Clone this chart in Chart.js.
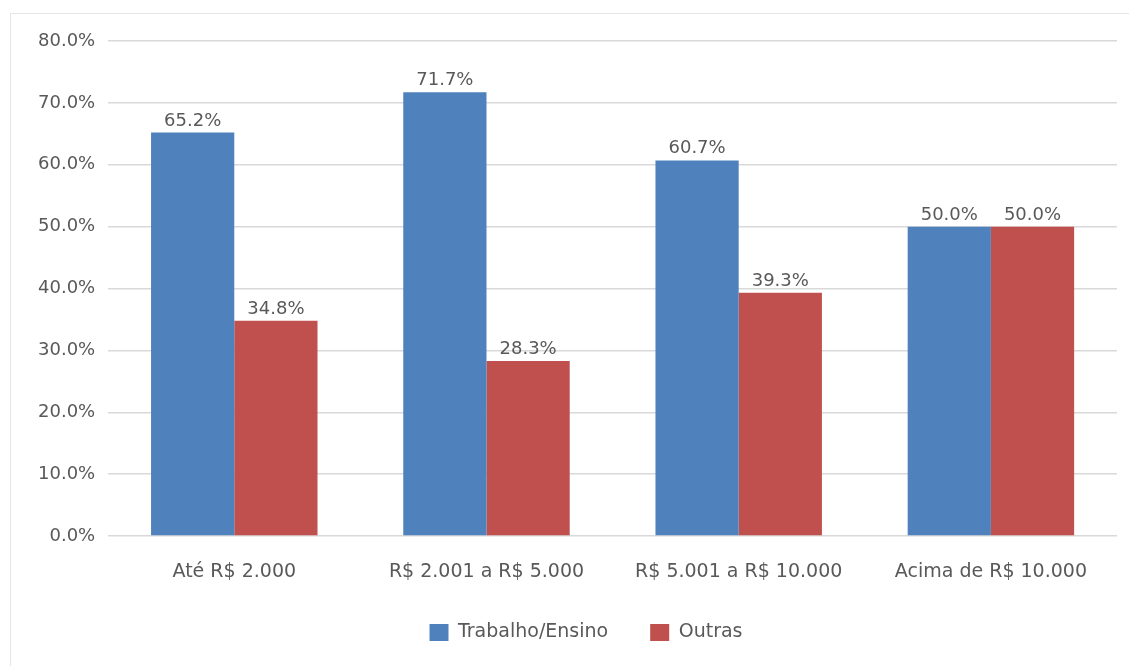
<!DOCTYPE html>
<html>
<head>
<meta charset="utf-8">
<script src="https://cdn.jsdelivr.net/npm/chart.js@4.4.1/dist/chart.umd.min.js"></script>
<style>
    html, body { margin: 0; padding: 0; background: #fff; overflow: hidden; }
    #frame { position: absolute; left: 10px; top: 13px; width: 1119px; height: 653px; border-top: 1px solid #e6e6e6; border-left: 1px solid #e6e6e6; box-sizing: border-box; }
    #wrap { position: absolute; left: 0; top: 0; width: 1129px; height: 666px; }
</style>
</head>
<body>
<div id="frame"></div>
<div id="wrap"><canvas id="chart"></canvas></div>
<script>
// --- DATA ---
const categories = ['Até R$ 2.000', 'R$ 2.001 a R$ 5.000', 'R$ 5.001 a R$ 10.000', 'Acima de R$ 10.000'];
const trabalhoEnsino = [65.2, 71.7, 60.7, 50.0];
const outras = [34.8, 28.3, 39.3, 50.0];
const yMax = 80;
const yStep = 10;

const FONT = '"DejaVu Sans", "Noto Sans", sans-serif';
const TEXT = '#595959';

// value labels above each bar
const barLabels = {
    id: 'barLabels',
    afterDatasetsDraw(chart) {
        const ctx = chart.ctx;
        ctx.save();
        ctx.font = '18px ' + FONT;
        ctx.fillStyle = TEXT;
        ctx.textAlign = 'center';
        ctx.textBaseline = 'alphabetic';
        chart.data.datasets.forEach((ds, i) => {
            chart.getDatasetMeta(i).data.forEach((bar, j) => {
                ctx.fillText(ds.data[j].toFixed(1) + '%', bar.x, bar.y - 7);
            });
        });
        ctx.restore();
    }
};

// nudge the legend a bit to the right, like the original
const legendShift = {
    id: 'legendShift',
    afterLayout(chart) {
        if (!chart.legend) return;
        chart.legend.left += 15;
        chart.legend.right += 15;
    }
};

new Chart(document.getElementById('chart'), {
    type: 'bar',
    data: {
        labels: categories,
        datasets: [
            { label: 'Trabalho/Ensino', data: trabalhoEnsino, backgroundColor: '#4f81bd', borderWidth: 0 },
            { label: 'Outras', data: outras, backgroundColor: '#c0504d', borderWidth: 0 }
        ]
    },
    options: {
        responsive: true,
        maintainAspectRatio: false,
        animation: false,
        layout: { padding: { left: 25, right: 12, top: 41, bottom: 14 } },
        datasets: { bar: { categoryPercentage: 0.66, barPercentage: 1.0 } },
        scales: {
            x: {
                grid: { display: false },
                border: { display: false },
                ticks: { color: TEXT, font: { family: FONT, size: 19 }, padding: 17 },
                afterFit(scale) { scale.height = 45; }
            },
            y: {
                min: 0,
                max: yMax,
                border: { display: false },
                grid: { color: '#d9d9d9', lineWidth: 1.5, drawTicks: false },
                ticks: {
                    stepSize: yStep,
                    color: TEXT,
                    font: { family: FONT, size: 18 },
                    padding: 13,
                    callback: v => v.toFixed(1) + '%'
                }
            }
        },
        plugins: {
            legend: {
                position: 'bottom',
                labels: {
                    color: TEXT,
                    font: { family: FONT, size: 19 },
                    boxWidth: 19,
                    boxHeight: 17,
                    padding: 42
                }
            },
            tooltip: { enabled: false }
        }
    },
    plugins: [barLabels, legendShift]
});
</script>
</body>
</html>
